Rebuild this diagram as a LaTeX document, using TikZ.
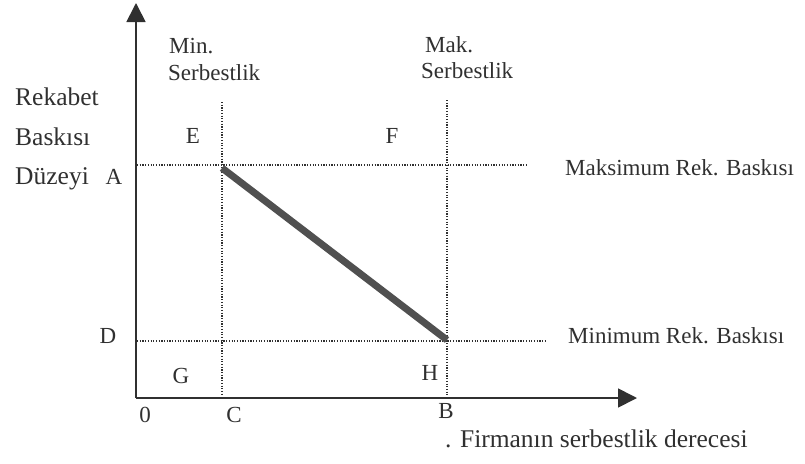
\documentclass[tikz,border=0pt]{standalone}
\usepackage{fontspec}
\setmainfont{Liberation Serif}
\usetikzlibrary{arrows.meta}
\definecolor{ink}{HTML}{303030}
\definecolor{bar}{HTML}{505050}

\begin{document}
\begin{tikzpicture}[x=1pt,y=-1pt,
	lab/.style={inner sep=0pt, anchor=base, text=ink, font=\fontsize{23}{27}\selectfont},
	biglab/.style={lab, anchor=base west, font=\fontsize{25.5}{30}\selectfont},
	axis/.style={draw=ink, line width=1.7pt, -{Triangle[length=19pt,width=19pt]}},
	guide/.style={draw=ink, line width=1.4pt, dash pattern=on 1.2pt off 1.5pt}]
	\useasboundingbox (0,0) rectangle (805,463);
	% axes
	\coordinate (O) at (136,398);
	\coordinate (xtip) at (637,398);
	\coordinate (ytip) at (136,3);
	\draw[axis] (O) -- (xtip);
	\draw[axis] (O) -- (ytip);
	% dotted guides
	\foreach \n/\x/\yt in {C/222/102, B/447/100} {\coordinate (top\n) at (\x,\yt); \coordinate (bot\n) at (\x,395); \draw[guide] (top\n) -- (bot\n);}
	\foreach \n/\y/\xe in {A/165/527, D/341/547} {\coordinate (left\n) at (137,\y); \coordinate (right\n) at (\xe,\y); \draw[guide] (left\n) -- (right\n);}
	% trade-off line
	\coordinate (Emax) at (222,168);
	\coordinate (Hmin) at (447,340);
	\draw[bar, line width=7pt] (Emax) -- (Hmin);
	% column heads
	\node[lab, anchor=base west] (minA) at (169,53) {Min.};
	\node[lab, anchor=base west] (minB) at (168,80) {Serbestlik};
	\node[lab, anchor=base west] (makA) at (425,52) {Mak.};
	\node[lab, anchor=base west] (makB) at (421,78) {Serbestlik};
	% y label
	\node[biglab] (ylabA) at (15,105) {Rekabet};
	\node[biglab] (ylabB) at (15,145) {Baskısı};
	\node[biglab] (ylabC) at (15,184) {Düzeyi};
	% points and regions
	\foreach \n/\x/\y in {E/193/143, F/392/143, A/114/184, D/108/343, G/181/383, H/430/380, C/234/422, B/446/418} {\node[lab] (p\n) at (\x,\y) {\n};}
	\node[lab] (p0) at (145,422) {0};
	% line labels
	\node[lab, anchor=base west] (maxlab) at (565,175) {Maksimum Rek. Baskısı};
	\node[lab, anchor=base west] (minlab) at (568,343) {Minimum Rek. Baskısı};
	\node[biglab] (xlab) at (445,447) {. Firmanın serbestlik derecesi};
\end{tikzpicture}
\end{document}
